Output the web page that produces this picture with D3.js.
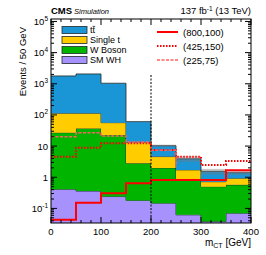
<!DOCTYPE html>
<html>
<head>
<meta charset="utf-8">
<script src="https://cdn.jsdelivr.net/npm/d3@7"></script>
<style>
  body { margin: 0; background: #fff; }
  text { font-family: "Liberation Sans", Arial, sans-serif; }
</style>
</head>
<body>
<div id="chart"></div>
<script>
// bin edges in m_CT [GeV]
const binEdges = [0, 50, 100, 150, 200, 250, 300, 350, 400];

// background processes (events per bin), stacked bottom -> top
const smWH    = [0.41, 0.36, 0.24, 0.18, 0.147, 0.062, 0.038, 0.07];
const wBoson  = [26.6, 36.6, 22.6, 2.62, 1.85, 0.80, 0.46, 0.50];
const singleT = [86, 76, 33.7, 10.5, 2.6, 0.86, 0.22, 0.36];
const ttbar   = [1667, 1952, 984, 47.7, 5.7, 2.18, 0.83, 0.47];
const relUnc  = [0.01, 0.01, 0.02, 0.05, 0.08, 0.2, 0.2, 0.15];

// signal points
const sig800 = [0.043, 0.153, 0.307, 0.64, 0.82, 0.82, 0.82, 1.68];
const sig425 = [4.58, 8.9, 12.3, 12.3, 7.5, 4.58, 2.48, 3.33];
const sig225 = [20.1, 27, 21.2, 13.5, 7.3, 2.19, null, null];

const xTicks = [0, 100, 200, 300, 400];
const yTicks = [1e-1, 1, 10, 1e2, 1e3, 1e4, 1e5];
const yTickLabels = [["10", "-1"], ["1", ""], ["10", ""], ["10", "2"], ["10", "3"], ["10", "4"], ["10", "5"]];

const processes = [
    { key: "wh", name: "SM WH", color: "#a792fd", values: smWH },
    { key: "w", name: "W Boson", color: "#00b400", values: wBoson },
    { key: "st", name: "Single t", color: "#ffcc00", values: singleT },
    { key: "tt", name: "tt", color: "#1a96d6", values: ttbar }
];
const signals = [
    { name: "(800,100)", values: sig800, color: "#ff0000", width: 2, dash: null },
    { name: "(425,150)", values: sig425, color: "#ff0000", width: 2, dash: "1.5,1.5" },
    { name: "(225,75)", values: sig225, color: "#ff6060", width: 1.5, dash: "3,1.5" }
];

const W = 266, H = 255;
const frame = { left: 51, right: 251, top: 19, bottom: 223 };

const svg = d3.select("#chart").append("svg")
    .attr("width", W)
    .attr("height", H);

const x = d3.scaleLinear().domain([0, 400]).range([frame.left, frame.right]);
const y = d3.scaleLog().domain([0.034, 1.2e5]).range([frame.bottom, frame.top]);
const yMin = y.domain()[0];

svg.append("clipPath").attr("id", "clip")
    .append("rect")
    .attr("x", frame.left).attr("y", frame.top)
    .attr("width", frame.right - frame.left)
    .attr("height", frame.bottom - frame.top);

const plot = svg.append("g").attr("clip-path", "url(#clip)");

// stack the backgrounds
const rows = binEdges.slice(0, -1).map((b, i) => {
    const r = { i: i };
    processes.forEach(p => { r[p.key] = p.values[i]; });
    return r;
});
const stacked = d3.stack().keys(processes.map(p => p.key))(rows);

// turn per-bin values into step points (extra point at the last edge)
function stepPoints(getter) {
    return binEdges.map((e, i) => ({ x: e, v: getter(Math.min(i, binEdges.length - 2)) }));
}

stacked.forEach((layer, k) => {
    const pts = binEdges.map((e, i) => {
        const d = layer[Math.min(i, layer.length - 1)];
        return { x: e, lo: Math.max(d[0], yMin), hi: d[1] };
    });
    plot.append("path")
        .datum(pts)
        .attr("fill", processes[k].color)
        .attr("d", d3.area()
            .curve(d3.curveStepAfter)
            .x(d => x(d.x))
            .y0(d => y(d.lo))
            .y1(d => y(d.hi)));
    plot.append("path")
        .datum(pts)
        .attr("fill", "none")
        .attr("stroke", "#1f2a2a")
        .attr("stroke-width", 0.8)
        .attr("d", d3.line()
            .curve(d3.curveStepAfter)
            .x(d => x(d.x))
            .y(d => y(d.hi)));
});

// MC uncertainty band on the total
const totals = rows.map((r, i) => stacked[stacked.length - 1][i][1]);
plot.selectAll(".unc")
    .data(totals)
    .enter().append("rect")
    .attr("class", "unc")
    .attr("x", (d, i) => x(binEdges[i]))
    .attr("width", (d, i) => x(binEdges[i + 1]) - x(binEdges[i]))
    .attr("y", (d, i) => y(d * (1 + relUnc[i])))
    .attr("height", (d, i) => y(d * (1 - relUnc[i])) - y(d * (1 + relUnc[i])))
    .attr("fill", "#777")
    .attr("opacity", 0.4);

// cut line at 200 GeV
svg.append("line")
    .attr("x1", x(200)).attr("x2", x(200))
    .attr("y1", 75).attr("y2", frame.bottom)
    .attr("stroke", "#000")
    .attr("stroke-width", 1)
    .attr("stroke-dasharray", "2,1.5");

// signal lines
signals.forEach(s => {
    const pts = stepPoints(i => s.values[i]);
    const p = plot.append("path")
        .datum(pts)
        .attr("fill", "none")
        .attr("stroke", s.color)
        .attr("stroke-width", s.width)
        .attr("d", d3.line()
            .defined(d => d.v != null)
            .curve(d3.curveStepAfter)
            .x(d => x(d.x))
            .y(d => y(Math.max(d.v, yMin * 0.5))));
    if (s.dash) p.attr("stroke-dasharray", s.dash);
});

// frame
svg.append("rect")
    .attr("x", frame.left).attr("y", frame.top)
    .attr("width", frame.right - frame.left)
    .attr("height", frame.bottom - frame.top)
    .attr("fill", "none")
    .attr("stroke", "#000")
    .attr("stroke-width", 1);

// ticks (inside, on all sides)
const ticks = svg.append("g").attr("stroke", "#000").attr("stroke-width", 1);
const xMinor = d3.range(0, 401, 20);
xMinor.forEach(v => {
    const len = xTicks.includes(v) ? 6 : 3;
    ticks.append("line").attr("x1", x(v)).attr("x2", x(v)).attr("y1", frame.bottom).attr("y2", frame.bottom - len);
    ticks.append("line").attr("x1", x(v)).attr("x2", x(v)).attr("y1", frame.top).attr("y2", frame.top + len);
});
const yMinor = [];
for (let e = -2; e <= 5; e++) {
    for (let m = 1; m <= 9; m++) {
        const v = m * Math.pow(10, e);
        if (v >= yMin && v <= y.domain()[1]) yMinor.push({ v: v, major: m === 1 });
    }
}
yMinor.forEach(t => {
    const len = t.major ? 6 : 3;
    ticks.append("line").attr("x1", frame.left).attr("x2", frame.left + len).attr("y1", y(t.v)).attr("y2", y(t.v));
    ticks.append("line").attr("x1", frame.right).attr("x2", frame.right - len).attr("y1", y(t.v)).attr("y2", y(t.v));
});

// x tick labels
svg.selectAll(".xlab")
    .data(xTicks)
    .enter().append("text")
    .attr("class", "xlab")
    .attr("x", d => x(d))
    .attr("y", 235)
    .attr("text-anchor", "middle")
    .attr("font-size", 9.5)
    .text(d => d);

// y tick labels with exponents
yTicks.forEach((v, i) => {
    const t = svg.append("text")
        .attr("x", 48)
        .attr("y", y(v) + 3.5)
        .attr("text-anchor", "end")
        .attr("font-size", 9.5);
    t.append("tspan").text(yTickLabels[i][0]);
    if (yTickLabels[i][1]) {
        t.append("tspan").attr("dy", -4).attr("font-size", 6.5).text(yTickLabels[i][1]);
    }
});

// axis titles
svg.append("text")
    .attr("transform", "translate(26,27) rotate(-90)")
    .attr("text-anchor", "end")
    .attr("font-size", 9.5)
    .text("Events / 50 GeV");

const xt = svg.append("text")
    .attr("x", frame.right)
    .attr("y", 246)
    .attr("text-anchor", "end")
    .attr("font-size", 10);
xt.append("tspan").text("m");
xt.append("tspan").attr("dy", 2).attr("font-size", 7).text("CT");
xt.append("tspan").attr("dy", -2).text(" [GeV]");

// header
svg.append("text").attr("x", 51).attr("y", 14)
    .attr("font-size", 9.5).attr("font-weight", "bold").text("CMS");
svg.append("text").attr("x", 74).attr("y", 14)
    .attr("font-size", 7.5).attr("font-style", "italic").text("Simulation");
const lumi = svg.append("text").attr("x", frame.right).attr("y", 14)
    .attr("text-anchor", "end").attr("font-size", 9.5);
lumi.append("tspan").text("137 fb");
lumi.append("tspan").attr("dy", -3.5).attr("font-size", 6.5).text("-1");
lumi.append("tspan").attr("dy", 3.5).text(" (13 TeV)");

// left legend (top to bottom: tt, single t, W, SM WH)
const legItems = processes.slice().reverse();
legItems.forEach((p, i) => {
    const cy = 30 + i * 10;
    svg.append("rect")
        .attr("x", 62).attr("y", cy - 3.5)
        .attr("width", 25).attr("height", 7)
        .attr("fill", p.color)
        .attr("stroke", "#1f2a2a").attr("stroke-width", 0.8);
    svg.append("text")
        .attr("x", 90).attr("y", cy + 3.2)
        .attr("font-size", 9)
        .text(p.name);
});
// overbar for the second t of tt
svg.append("line")
    .attr("x1", 92.6).attr("x2", 95.2)
    .attr("y1", 26.4).attr("y2", 26.4)
    .attr("stroke", "#000").attr("stroke-width", 0.7);

// right legend (signals)
signals.forEach((s, i) => {
    const cy = 32 + i * 14;
    const l = svg.append("line")
        .attr("x1", 157).attr("x2", 178)
        .attr("y1", cy).attr("y2", cy)
        .attr("stroke", s.color)
        .attr("stroke-width", s.width);
    if (s.dash) l.attr("stroke-dasharray", s.dash);
    svg.append("text")
        .attr("x", 183).attr("y", cy + 3.5)
        .attr("font-size", 9.5)
        .text(s.name);
});
</script>
</body>
</html>
